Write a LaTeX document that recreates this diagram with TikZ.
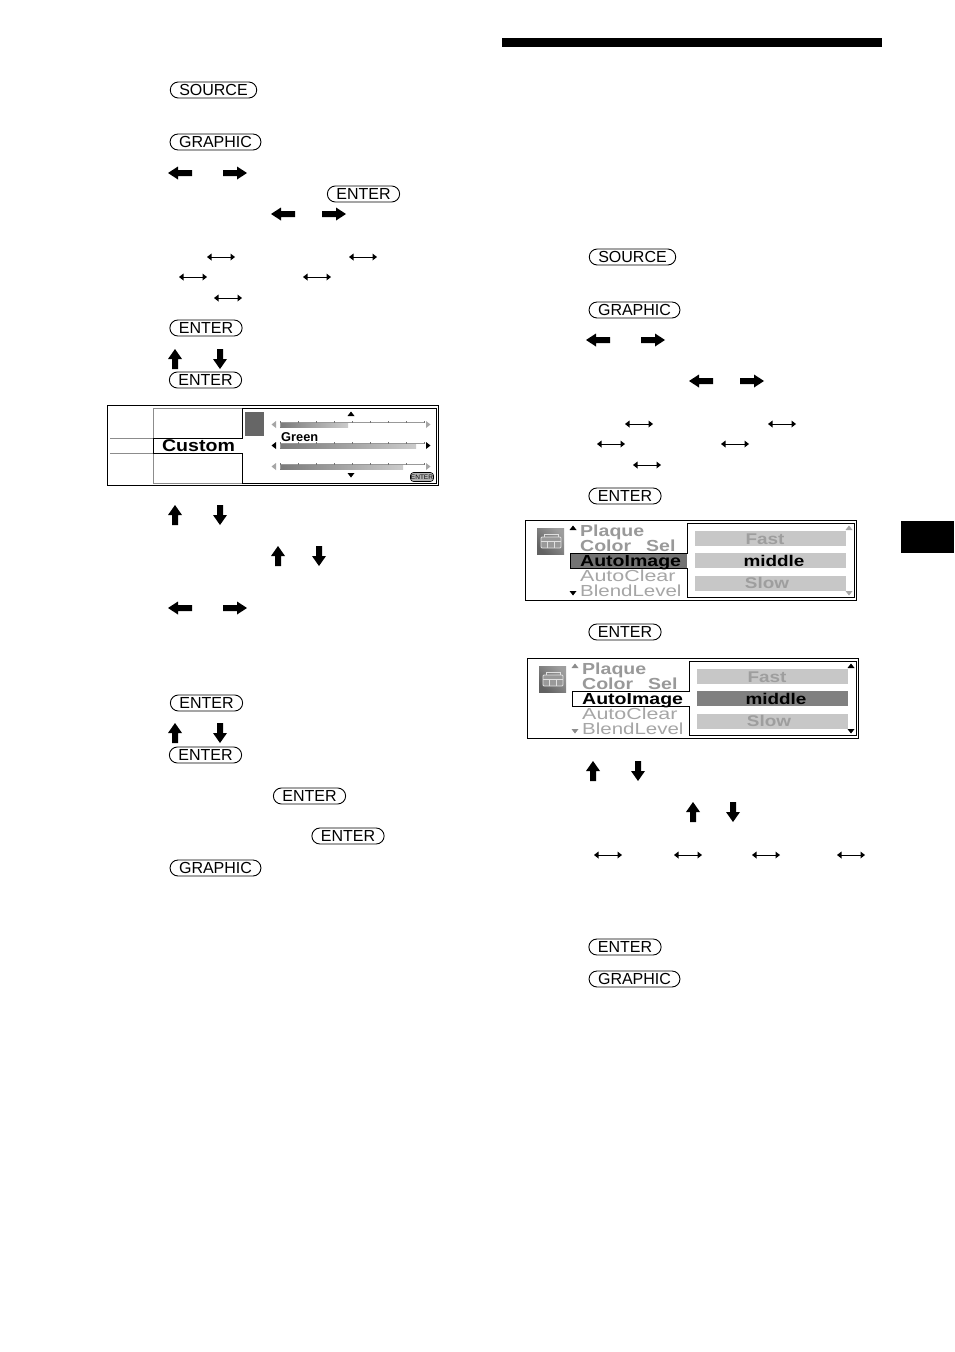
\documentclass[tikz,border=0pt]{standalone}
\usepackage{fontspec}
\setmainfont{Liberation Sans}
\newfontfamily\widefont[FakeStretch=1.22]{Liberation Sans}
\newfontfamily\widerfont[FakeStretch=1.34]{Liberation Sans}
\newfontfamily\blendfont[FakeStretch=1.28]{Liberation Sans}
\newfontfamily\tallfont[FakeStretch=1.15]{Liberation Sans}
\tikzset{
  pillbox/.style={draw=black,line width=0.9pt,rounded corners=8pt,inner xsep=9pt,inner ysep=0pt,
    minimum height=16pt,text height=11.5pt,text depth=0pt,font=\fontsize{16}{16}\selectfont},
  arrowfill/.style={fill=black,draw=none},
  thinarrow/.style={line width=0.9pt,black},
  menutext/.style={anchor=base west,inner sep=0pt,font=\widerfont\fontsize{16}{16}\selectfont},
  menublend/.style={anchor=base west,inner sep=0pt,font=\blendfont\fontsize{16}{16}\selectfont},
  menubold/.style={menutext,font=\widefont\bfseries\fontsize{16}{16}\selectfont},
  bartext/.style={inner sep=0pt,anchor=base,font=\widefont\bfseries\fontsize{15.5}{16}\selectfont},
  frame/.style={draw=black,line width=0.9pt},
  softline/.style={draw=black!45,line width=0.9pt},
}
\newcommand\pill[4]{\node[pillbox] (#1) at (#2,#3) {#4};}
\newcommand\arrL[2]{\fill[arrowfill,shift={(#1,#2)}] (-12,0)--(-2,-6.5)--(-2,-3)--(12,-3)--(12,3)--(-2,3)--(-2,6.5)--cycle;}
\newcommand\arrR[2]{\fill[arrowfill,shift={(#1,#2)}] (12,0)--(2,-6.5)--(2,-3)--(-12,-3)--(-12,3)--(2,3)--(2,6.5)--cycle;}
\newcommand\arrU[2]{\fill[arrowfill,shift={(#1,#2)}] (0,-10)--(7,0)--(3,0)--(3,10)--(-3,10)--(-3,0)--(-7,0)--cycle;}
\newcommand\arrD[2]{\fill[arrowfill,shift={(#1,#2)}] (0,10)--(7,0)--(3,0)--(3,-10)--(-3,-10)--(-3,0)--(-7,0)--cycle;}
\newcommand\dblarr[2]{\begin{scope}[shift={(#1,#2)}]
  \draw[thinarrow] (-11,0)--(11,0);
  \fill[black] (-14,0)--(-9.5,-3.5)--(-9.5,3.5)--cycle;
  \fill[black] (14,0)--(9.5,-3.5)--(9.5,3.5)--cycle;
\end{scope}}
\newcommand\triU[3]{\fill[#3,shift={(#1,#2)}] (0,-2.5)--(3.5,2)--(-3.5,2)--cycle;}
\newcommand\triD[3]{\fill[#3,shift={(#1,#2)}] (0,2.5)--(3.5,-2)--(-3.5,-2)--cycle;}
\newcommand\triL[3]{\fill[#3,shift={(#1,#2)}] (-2.5,0)--(2,-3.5)--(2,3.5)--cycle;}
\newcommand\triR[3]{\fill[#3,shift={(#1,#2)}] (2.5,0)--(-2,-3.5)--(-2,3.5)--cycle;}
% slider: y, fill end, triangle colour
\newcommand\slider[3]{
  \shade[left color=black!52,right color=black!20,shading angle=90] (280,#1-1.2) rectangle (#2,#1+2.5);
  \draw[black!40,line width=0.6pt] (280,#1-2.5)--(424,#1-2.5);
  \draw[black!40,line width=0.6pt] (280,#1-1.2)--(280,#1+2.5);
  \foreach \k in {0,...,8}{\draw[black!55,line width=0.6pt] (280+18*\k,#1-3.5)--(280+18*\k,#1-1.5);}
  \triL{274}{#1}{#3}\triR{428}{#1}{#3}
}
% menu screen: x, y shift, tab fill, middle bar fill, left tri, right tri
\newcommand\menuscreen[7]{
\begin{scope}[shift={(#1,#2)}]
  \draw[frame,line width=1pt] (525.5,520.5) rectangle (856.5,600.5);
  \shade[left color=black!62,right color=black!38,shading angle=135] (537,528) rectangle (564,554);
  \draw[black!12,line width=0.9pt,rounded corners=1pt,fill=black!40] (541,537) rectangle (561,548);
  \draw[black!12,line width=0.7pt] (541,541)--(561,541) (547.5,541)--(547.5,548) (554.5,541)--(554.5,548) (544,537)--(544,534)--(558,534)--(558,537);
  \fill[#3] (570,553) rectangle (687,568);
  \draw[frame] (570,553)--(687,553)--(687,523)--(854,523)--(854,597)--(687,597)--(687,568)--(570,568)--cycle;
  \fill[black!22] (695,531) rectangle (846,546);
  \fill[#4] (695,553) rectangle (846,568);
  \fill[black!22] (695,576) rectangle (846,591);
  \triU{573}{528}{#5}\triD{573}{593}{#5}
  \triU{849}{528}{#6}\triD{849}{593}{#6}
  \node[menubold,text=black!40] (#7a) at (580,536) {Plaque};
  \node[menubold,text=black!40] (#7b) at (580,551) {Color};
  \node[menubold,text=black!40] (#7c) at (646,551) {Sel};
  \node[menubold,text=black] (#7d) at (580,566) {AutoImage};
  \node[menutext,text=black!35] (#7e) at (580,581) {AutoClear};
  \node[menublend,text=black!35] (#7f) at (580,596) {BlendLevel};
  \node[bartext,text=black!38] (#7g) at (765,544.5) {Fast};
  \node[bartext,text=black] (#7h) at (774,566) {middle};
  \node[bartext,text=black!38] (#7i) at (767,588.5) {Slow};
\end{scope}}
\begin{document}
\begin{tikzpicture}[x=1pt,y=-1pt]
\useasboundingbox (0,0) rectangle (954,1352);
\fill[white] (0,0) rectangle (954,1352);
\fill[black] (502,38) rectangle (882,47);
\fill[black] (901,521) rectangle (954,553);
% left column
\pill{a1}{213.5}{90}{SOURCE}
\pill{a2}{215.5}{142}{GRAPHIC}
\arrL{180}{173}\arrR{235}{173}
\pill{a3}{363.5}{194}{ENTER}
\arrL{283}{214}\arrR{334}{214}
\dblarr{221}{257}\dblarr{363}{257}\dblarr{193}{277}\dblarr{317}{277}\dblarr{228}{298}
\pill{a4}{206}{328}{ENTER}
\arrU{175}{359}\arrD{220}{359}
\pill{a5}{205.5}{380}{ENTER}
% screen 1
\draw[frame,line width=1pt] (107.5,405.5) rectangle (438.5,485.5);
\draw[softline] (110,438)--(153,438) (110,453)--(153,453);
\draw[softline] (153,438)--(153,408)--(242,408) (153,453)--(153,483)--(242,483);
\draw[frame] (153,453)--(153,438)--(242,438)--(242,408)--(436,408)--(436,483)--(242,483)--(242,453)--cycle;
\fill[black!60] (245,412) rectangle (264,436);
\node[anchor=base,inner sep=0pt,font=\tallfont\bfseries\fontsize{17}{17}\selectfont] (custom) at (198.5,451) {Custom};
\node[anchor=base west,inner sep=0pt,font=\bfseries\fontsize{12.8}{13}\selectfont] (green) at (281,441) {Green};
\triU{351}{414}{black}\triD{351}{475}{black}
\slider{424.5}{348}{black!35}
\slider{445.5}{416}{black}
\slider{466.5}{403}{black!35}
\node[draw=black,fill=black!30,rounded corners=3pt,line width=0.6pt,inner xsep=0.5pt,inner ysep=0pt,minimum height=9pt,text height=5.5pt,text depth=0pt,font=\fontsize{6.5}{8}\selectfont] (mini) at (422,477) {ENTER};
%
\arrU{175}{515}\arrD{220}{515}
\arrU{278}{556}\arrD{319}{556}
\arrL{180}{608}\arrR{235}{608}
\pill{a6}{206.5}{703}{ENTER}
\arrU{175}{733}\arrD{220}{733}
\pill{a7}{205.5}{755}{ENTER}
\pill{a8}{309.5}{796}{ENTER}
\pill{a9}{348}{836}{ENTER}
\pill{a10}{215.5}{868}{GRAPHIC}
% right column
\pill{b1}{632.5}{257}{SOURCE}
\pill{b2}{634.5}{310}{GRAPHIC}
\arrL{598}{340}\arrR{653}{340}
\arrL{701}{381}\arrR{752}{381}
\dblarr{639}{424}\dblarr{782}{424}\dblarr{611}{444}\dblarr{735}{444}\dblarr{647}{465}
\pill{b3}{625}{496}{ENTER}
\menuscreen{0}{0}{black!55}{black!22}{black}{black!35}{s}
\pill{b4}{625}{632}{ENTER}
\menuscreen{2}{138}{white}{black!50}{black!45}{black}{t}
\arrU{593}{771}\arrD{638}{771}
\arrU{693}{812}\arrD{733}{812}
\dblarr{608}{855}\dblarr{688}{855}\dblarr{766}{855}\dblarr{851}{855}
\pill{b5}{625}{947}{ENTER}
\pill{b6}{634.5}{979}{GRAPHIC}
\end{tikzpicture}
\end{document}
